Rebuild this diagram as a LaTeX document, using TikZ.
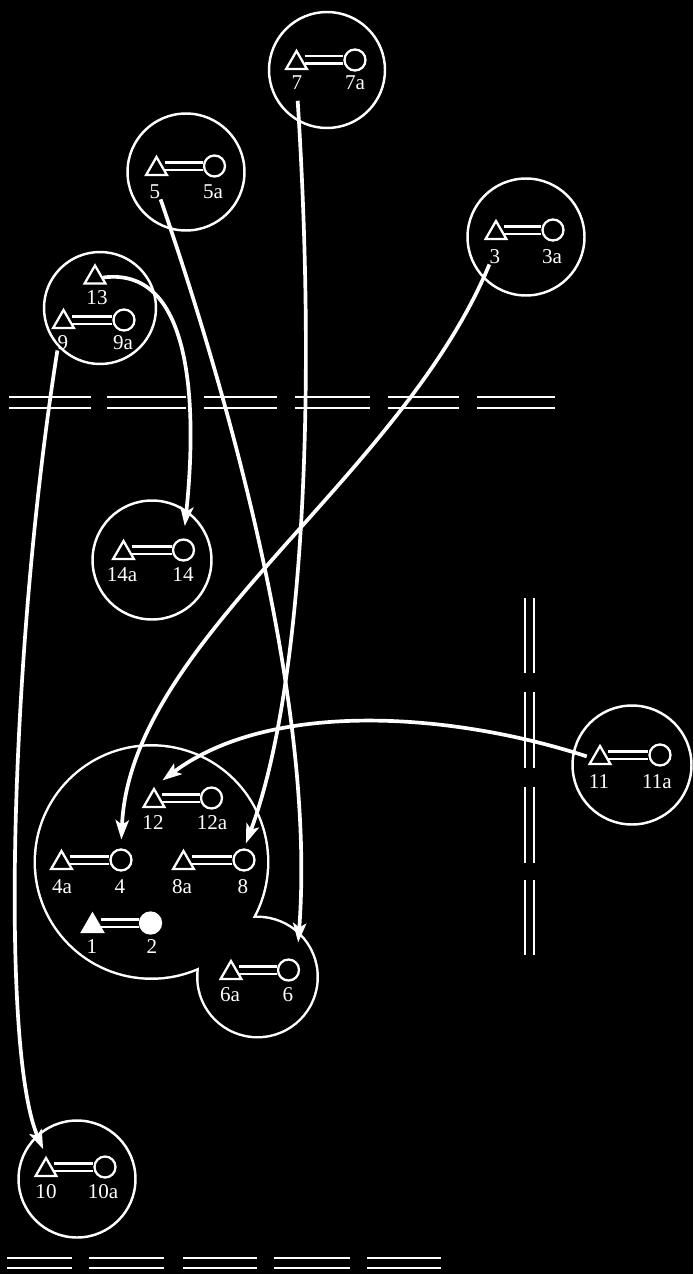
\documentclass[tikz,border=0pt]{standalone}
\usepackage{fontspec}
\setmainfont{Liberation Serif}
\usetikzlibrary{arrows.meta,shapes.geometric}

\begin{document}
\begin{tikzpicture}[x=0.02cm,y=-0.02cm,
  tri/.style={regular polygon,regular polygon sides=3,draw=white,line width=1.3pt,minimum size=0.48cm,inner sep=0pt},
  ring/.style={circle,draw=white,line width=1.3pt,minimum size=0.42cm,inner sep=0pt},
  bond/.style={draw=white,line width=0.05cm,double=black,double distance=0.1cm},
  group/.style={circle,draw=white,line width=1.4pt,minimum size=2.34cm,inner sep=0pt},
  lab/.style={text=white,inner sep=0pt,font=\fontsize{12}{14}\selectfont},
  fence/.style={draw=white,line width=0.05cm,double=black,double distance=0.17cm},
  link/.style={draw=white,line width=2.1pt,-{Stealth[length=11pt,width=7.5pt,inset=2.5pt]}}]
\path[use as bounding box] (0,0) rectangle (693,1274);
\fill[black] (0,0) rectangle (693,1274);
% fences
\draw[fence] (9,402.5) -- (91,402.5) (107,402.5) -- (186,402.5) (204,402.5) -- (277,402.5)
  (295,402.5) -- (370,402.5) (388,402.5) -- (459,402.5) (477,402.5) -- (555,402.5);
\draw[fence,double distance=0.15cm] (7,1263) -- (72,1263) (89,1263) -- (164,1263) (183,1263) -- (257,1263)
  (274,1263) -- (350,1263) (367,1263) -- (441,1263);
\draw[fence,double distance=0.13cm] (529.5,598) -- (529.5,673) (529.5,692) -- (529.5,768)
  (529.5,787) -- (529.5,863) (529.5,880) -- (529.5,955);
% groups
\node[group,minimum size=2.32cm] (g7) at (327,70) {};
\node[group] (g5) at (186,172) {};
\node[group] (g3) at (526,237) {};
\node[group,minimum size=2.24cm] (g9) at (100,308) {};
\node[group,minimum size=2.38cm] (g14) at (152,560) {};
\node[group,minimum size=2.38cm] (g11) at (632,765) {};
\node[group] (g10) at (77,1179) {};
\draw[white,line width=2.8pt] (151.5,862) circle (2.31cm) (257.5,977) circle (1.18cm);
\fill[black] (151.5,862) circle (2.31cm) (257.5,977) circle (1.18cm);
% pairs
\node[tri] (t7) at (296.5,63) {};
\node[ring] (c7) at (355,60) {};
\draw[bond] (t7.east |- c7) -- (c7.west);
\node[lab] (n7) at (297,83) {7};
\node[lab] (n7a) at (355,83) {7a};
\node[tri] (t5) at (156.5,169) {};
\node[ring] (c5) at (214.5,166) {};
\draw[bond] (t5.east |- c5) -- (c5.west);
\node[lab] (n5) at (155,192) {5};
\node[lab] (n5a) at (213,192) {5a};
\node[tri] (t3) at (496,233) {};
\node[ring] (c3) at (553,230) {};
\draw[bond] (t3.east |- c3) -- (c3.west);
\node[lab] (n3) at (495,257) {3};
\node[lab] (n3a) at (552,257) {3a};
\node[tri] (t13) at (95,277.5) {};
\node[lab] (n13) at (97,298) {13};
\node[tri] (t9) at (63.5,322) {};
\node[ring] (c9) at (124,320) {};
\draw[bond] (t9.east |- c9) -- (c9.west);
\node[lab] (n9) at (63,343) {9};
\node[lab] (n9a) at (123,343) {9a};
\node[tri] (t14) at (123.5,553) {};
\node[ring] (c14) at (183.5,550) {};
\draw[bond] (t14.east |- c14) -- (c14.west);
\node[lab] (n14a) at (122,575) {14a};
\node[lab] (n14) at (183,575) {14};
\node[tri] (t11) at (600,758) {};
\node[ring] (c11) at (660,755) {};
\draw[bond] (t11.east |- c11) -- (c11.west);
\node[lab] (n11) at (599,782) {11};
\node[lab] (n11a) at (657,782) {11a};
\node[tri] (t12) at (154,801) {};
\node[ring] (c12) at (211.5,798) {};
\draw[bond] (t12.east |- c12) -- (c12.west);
\node[lab] (n12) at (153,823) {12};
\node[lab] (n12a) at (212,823) {12a};
\node[tri] (t4) at (61.5,863) {};
\node[ring] (c4) at (121,860) {};
\draw[bond] (t4.east |- c4) -- (c4.west);
\node[lab] (n4a) at (62,887) {4a};
\node[lab] (n4) at (120,887) {4};
\node[tri] (t8) at (183.5,863) {};
\node[ring] (c8) at (244,860) {};
\draw[bond] (t8.east |- c8) -- (c8.west);
\node[lab] (n8a) at (182,887) {8a};
\node[lab] (n8) at (243,887) {8};
\node[tri,fill=white] (t1) at (92.5,926) {};
\node[ring,fill=white] (c2) at (150.5,923) {};
\draw[bond] (t1.east |- c2) -- (c2.west);
\node[lab] (n1) at (92,947) {1};
\node[lab] (n2) at (152,947) {2};
\node[tri] (t6) at (231,973) {};
\node[ring] (c6) at (288.5,970) {};
\draw[bond] (t6.east |- c6) -- (c6.west);
\node[lab] (n6a) at (230,995) {6a};
\node[lab] (n6) at (288,995) {6};
\node[tri] (t10) at (46,1170) {};
\node[ring] (c10) at (105,1167) {};
\draw[bond] (t10.east |- c10) -- (c10.west);
\node[lab] (n10) at (46,1192) {10};
\node[lab] (n10a) at (103,1192) {10a};
% moves
\draw[link,shorten >=7pt] (t13.east) .. controls (200,265) and (195,430) .. (c14.north);
\draw[link,shorten >=4pt] (n9.south west) .. controls (10,650) and (0,1050) .. (t10.north);
\draw[link,shorten >=11pt] (n5.south east) .. controls (240,430) and (315,720) .. (c6.north east);
\draw[link,shorten <=6pt,shorten >=3pt] (n7.south) .. controls (318,420) and (300,700) .. (c8.north);
\draw[link,shorten >=5pt] (n3.south west) .. controls (400,480) and (130,640) .. (c4.north);
\draw[link,shorten <=3pt,shorten >=6pt] (t11.west) .. controls (450,712) and (270,700) .. (t12.north);
\end{tikzpicture}
\end{document}
